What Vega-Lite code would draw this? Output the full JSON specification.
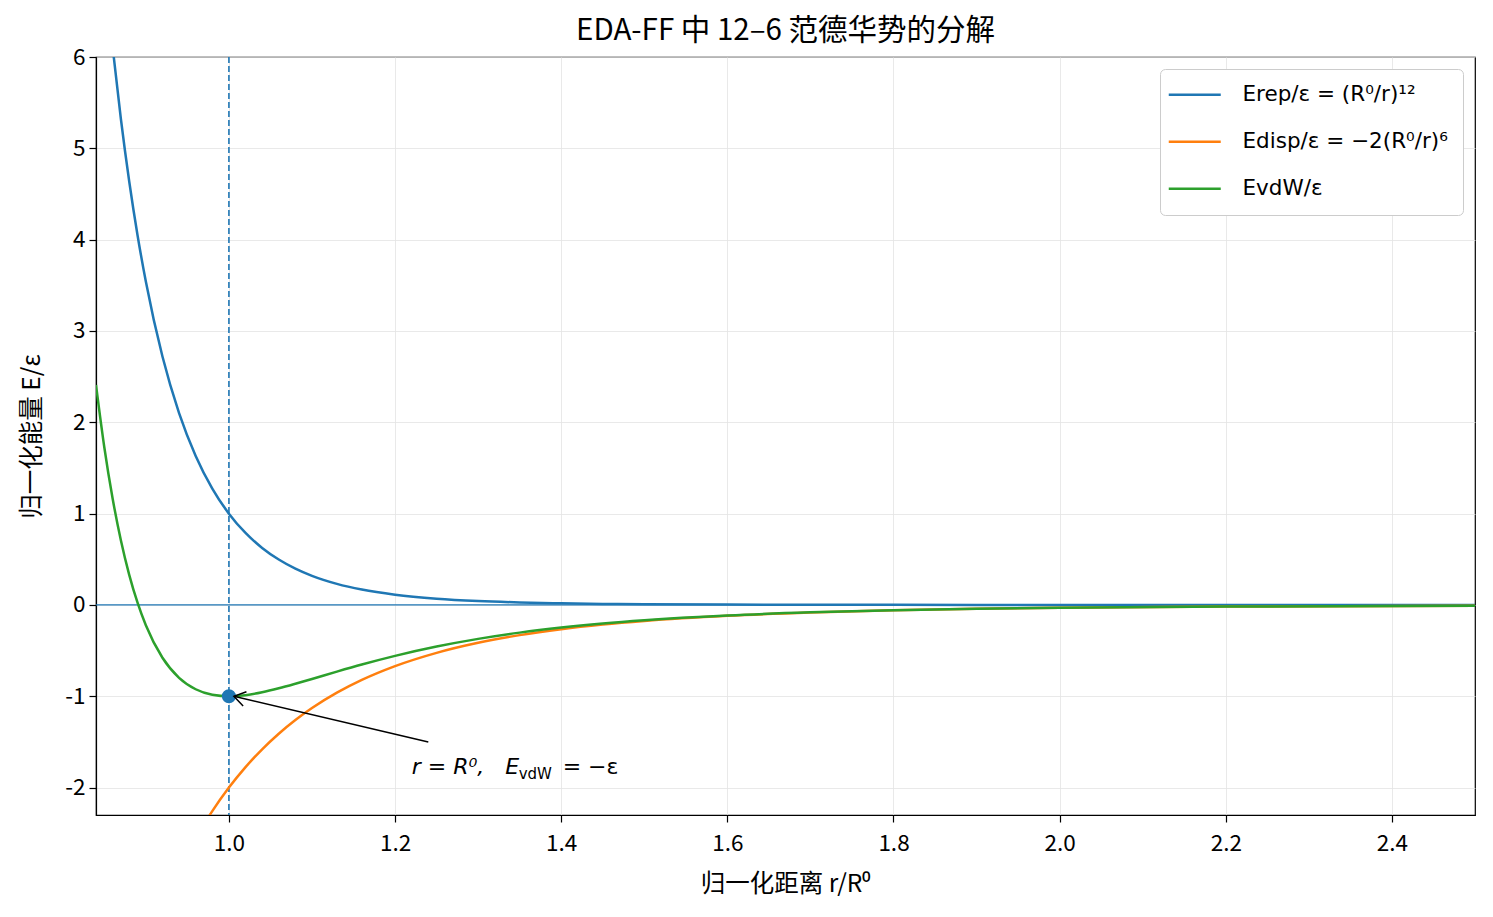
{
  "$schema": "https://vega.github.io/schema/vega-lite/v6.json",
  "width": 1379,
  "height": 758,
  "autosize": "none",
  "padding": {"left": 96, "top": 57, "right": 18, "bottom": 102},
  "background": "white",
  "title": {
    "text": "EDA-FF 中 12–6 范德华势的分解",
    "font": "Noto Sans CJK SC",
    "fontSize": 29.5,
    "fontWeight": "normal",
    "color": "black",
    "offset": 0
  },
  "config": {
    "view": {"stroke": "black", "strokeWidth": 1.2},
    "axis": {
      "labelFont": "Noto Sans CJK SC",
      "labelFontSize": 22.5,
      "labelColor": "black",
      "titleFont": "Noto Sans CJK SC",
      "titleFontSize": 24.5,
      "titleFontWeight": "normal",
      "titleColor": "black",
      "domainColor": "black",
      "domainWidth": 1.2,
      "tickColor": "black",
      "tickSize": 7,
      "tickWidth": 1.2,
      "gridColor": "#e3e3e3",
      "gridWidth": 0.8,
      "labelPadding": 4
    },
    "legend": {
      "orient": "top-right",
      "offset": 12,
      "fillColor": "white",
      "strokeColor": "#cccccc",
      "cornerRadius": 5,
      "padding": 15,
      "labelFont": "DejaVu Sans",
      "labelFontSize": 21.5,
      "labelColor": "black",
      "labelLimit": 400,
      "symbolType": "M -3.4 0 L 7 0",
      "symbolSize": 100,
      "symbolStrokeWidth": 2.5,
      "labelOffset": 46,
      "rowPadding": 24
    }
  },
  "datasets": {
    "curves": [
      {"r": 0.84, "rep": 8.103, "disp": -5.6932, "vdw": 2.4098},
      {"r": 0.85, "rep": 7.0303, "disp": -5.3029, "vdw": 1.7274},
      {"r": 0.86, "rep": 6.1097, "disp": -4.9436, "vdw": 1.1661},
      {"r": 0.87, "rep": 5.3183, "disp": -4.6123, "vdw": 0.706},
      {"r": 0.88, "rep": 4.6367, "disp": -4.3066, "vdw": 0.3301},
      {"r": 0.89, "rep": 4.0487, "disp": -4.0243, "vdw": 0.0244},
      {"r": 0.9, "rep": 3.5407, "disp": -3.7634, "vdw": -0.2226},
      {"r": 0.92, "rep": 2.7199, "disp": -3.2984, "vdw": -0.5785},
      {"r": 0.94, "rep": 2.1012, "disp": -2.8991, "vdw": -0.7979},
      {"r": 0.96, "rep": 1.6321, "disp": -2.5551, "vdw": -0.923},
      {"r": 0.98, "rep": 1.2743, "disp": -2.2577, "vdw": -0.9834},
      {"r": 1.0, "rep": 1.0, "disp": -2.0, "vdw": -1.0},
      {"r": 1.02, "rep": 0.7885, "disp": -1.7759, "vdw": -0.9875},
      {"r": 1.04, "rep": 0.6246, "disp": -1.5806, "vdw": -0.956},
      {"r": 1.06, "rep": 0.497, "disp": -1.4099, "vdw": -0.913},
      {"r": 1.08, "rep": 0.3971, "disp": -1.2603, "vdw": -0.8632},
      {"r": 1.1, "rep": 0.3186, "disp": -1.129, "vdw": -0.8103},
      {"r": 1.13, "rep": 0.2307, "disp": -0.9606, "vdw": -0.7299},
      {"r": 1.16, "rep": 0.1685, "disp": -0.8209, "vdw": -0.6524},
      {"r": 1.2, "rep": 0.1122, "disp": -0.6698, "vdw": -0.5576},
      {"r": 1.25, "rep": 0.0687, "disp": -0.5243, "vdw": -0.4556},
      {"r": 1.3, "rep": 0.0429, "disp": -0.4144, "vdw": -0.3714},
      {"r": 1.35, "rep": 0.0273, "disp": -0.3304, "vdw": -0.3031},
      {"r": 1.4, "rep": 0.0176, "disp": -0.2656, "vdw": -0.248},
      {"r": 1.45, "rep": 0.0116, "disp": -0.2152, "vdw": -0.2036},
      {"r": 1.5, "rep": 0.0077, "disp": -0.1756, "vdw": -0.1679},
      {"r": 1.6, "rep": 0.0036, "disp": -0.1192, "vdw": -0.1157},
      {"r": 1.7, "rep": 0.0017, "disp": -0.0829, "vdw": -0.0811},
      {"r": 1.8, "rep": 0.0009, "disp": -0.0588, "vdw": -0.0579},
      {"r": 1.9, "rep": 0.0005, "disp": -0.0425, "vdw": -0.0421},
      {"r": 2.0, "rep": 0.0002, "disp": -0.0313, "vdw": -0.031},
      {"r": 2.2, "rep": 0.0001, "disp": -0.0176, "vdw": -0.0176},
      {"r": 2.5, "rep": 0.0, "disp": -0.0082, "vdw": -0.0082}
    ],
    "arrow": [{"r": 1.24, "E": -1.5, "r2": 1.006, "E2": -1.0}],
    "notes": [{"r": 1.22, "E": -1.85, "a": "r = R⁰,\u00a0\u00a0\u00a0E", "b": "vdW", "c": "= −ε"}]
  },
  "encoding": {
    "x": {
      "type": "quantitative",
      "scale": {"domain": [0.84, 2.5], "nice": false, "zero": false},
      "axis": {
        "title": "归一化距离 r/R⁰",
        "values": [1.0, 1.2, 1.4, 1.6, 1.8, 2.0, 2.2, 2.4],
        "format": ".1f",
        "labelPadding": 10,
        "titlePadding": 18
      }
    },
    "y": {
      "type": "quantitative",
      "scale": {"domain": [-2.3, 6], "nice": false, "zero": false},
      "axis": {
        "title": "归一化能量 E/ε",
        "values": [-2, -1, 0, 1, 2, 3, 4, 5, 6],
        "labelExpr": "'' + datum.value",
        "titlePadding": 20
      }
    }
  },
  "layer": [
    {
      "data": {"values": [{"E": 0}]},
      "mark": {"type": "rule", "color": "#1f77b4", "strokeWidth": 1.2},
      "encoding": {"y": {"field": "E", "type": "quantitative"}, "x": null}
    },
    {
      "data": {"values": [{"r": 1.0}]},
      "mark": {"type": "rule", "color": "#1f77b4", "strokeWidth": 1.6, "strokeDash": [6, 3]},
      "encoding": {"x": {"field": "r", "type": "quantitative"}, "y": null}
    },
    {
      "data": {"name": "curves"},
      "transform": [{"fold": ["rep", "disp", "vdw"], "as": ["key", "E"]}],
      "mark": {"type": "line", "clip": true, "strokeWidth": 2.5, "interpolate": "monotone"},
      "encoding": {
        "x": {"field": "r"},
        "y": {"field": "E"},
        "color": {
          "field": "key",
          "type": "nominal",
          "scale": {"domain": ["rep", "disp", "vdw"], "range": ["#1f77b4", "#ff7f0e", "#2ca02c"]},
          "legend": {
            "title": null,
            "labelExpr": "datum.value == 'rep' ? 'Erep/ε = (R⁰/r)¹²' : datum.value == 'disp' ? 'Edisp/ε = −2(R⁰/r)⁶' : 'EvdW/ε'"
          }
        }
      }
    },
    {
      "data": {"values": [{"r": 1.0, "E": -1.0}]},
      "mark": {"type": "point", "filled": true, "size": 200, "color": "#1f77b4", "opacity": 1},
      "encoding": {"x": {"field": "r"}, "y": {"field": "E"}}
    },
    {
      "data": {"name": "arrow"},
      "mark": {"type": "rule", "color": "black", "strokeWidth": 1.5},
      "encoding": {
        "x": {"field": "r"},
        "y": {"field": "E"},
        "x2": {"field": "r2"},
        "y2": {"field": "E2"}
      }
    },
    {
      "data": {"name": "arrow"},
      "mark": {
        "type": "point",
        "shape": "M -1 -0.65 L 0 0 L -1 0.65",
        "filled": false,
        "size": 500,
        "angle": 193.2,
        "color": "black",
        "strokeWidth": 1.5,
        "opacity": 1
      },
      "encoding": {"x": {"field": "r2"}, "y": {"field": "E2"}}
    },
    {
      "data": {"name": "notes"},
      "mark": {"type": "text", "align": "left", "baseline": "alphabetic", "font": "DejaVu Sans", "fontSize": 22, "fontStyle": "italic", "color": "black"},
      "encoding": {"x": {"field": "r"}, "y": {"field": "E"}, "text": {"field": "a"}}
    },
    {
      "data": {"name": "notes"},
      "mark": {"type": "text", "align": "left", "baseline": "alphabetic", "font": "DejaVu Sans", "fontSize": 15, "dx": 107, "dy": 5, "color": "black"},
      "encoding": {"x": {"field": "r"}, "y": {"field": "E"}, "text": {"field": "b"}}
    },
    {
      "data": {"name": "notes"},
      "mark": {"type": "text", "align": "left", "baseline": "alphabetic", "font": "DejaVu Sans", "fontSize": 22, "dx": 151, "color": "black"},
      "encoding": {"x": {"field": "r"}, "y": {"field": "E"}, "text": {"field": "c"}}
    }
  ]
}
